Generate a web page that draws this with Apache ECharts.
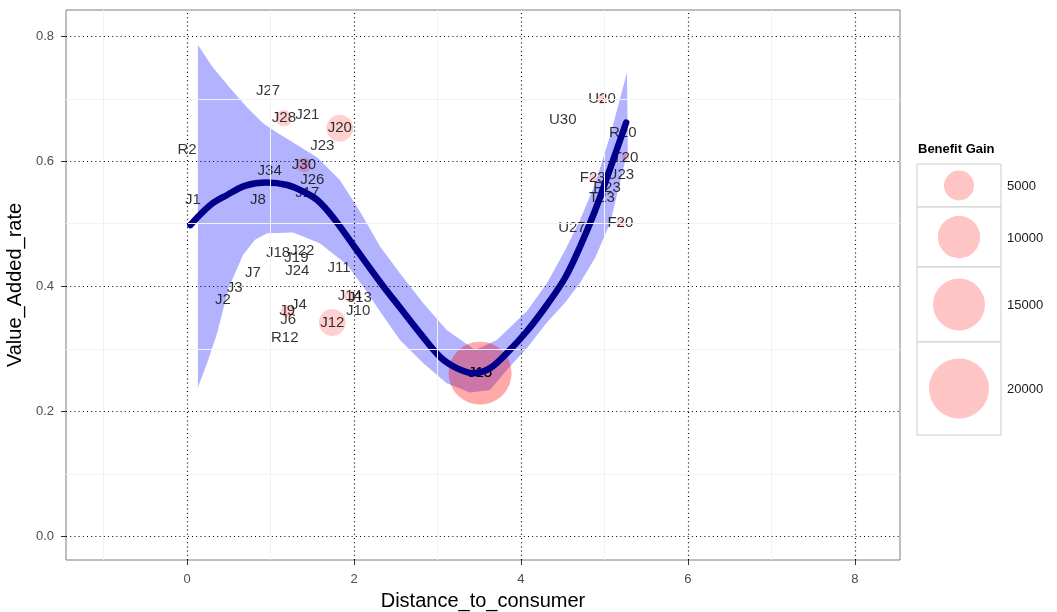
<!DOCTYPE html>
<html><head><meta charset="utf-8">
<script src="https://cdn.jsdelivr.net/npm/echarts@6/dist/echarts.min.js"></script>
<style>html,body{margin:0;padding:0;background:#fff}#c{width:1057px;height:612px}</style>
</head><body><div id="c"></div>
<script>
// ---- data ----
const pointLabels = ['R2','J1','J27','J28','J21','J20','J23','J30','J34','J26','J17','J8','J18','J22','J19','J24','J11','J7','J3','J2','J4','J9','J6','R12','J12','J14','J13','J10','J15','J15','U20','U30','R20','T20','U23','F23','R23','T23','U27','F20'];
const distanceToConsumer = [0.00,0.07,0.97,1.16,1.44,1.83,1.62,1.40,0.99,1.50,1.44,0.85,1.09,1.38,1.31,1.32,1.82,0.79,0.57,0.43,1.34,1.20,1.21,1.17,1.74,1.95,2.07,2.05,3.51,3.51,4.97,4.50,5.22,5.25,5.19,4.86,5.03,4.97,4.61,5.19];
const valueAddedRate = [0.618,0.539,0.712,0.669,0.674,0.653,0.624,0.594,0.584,0.570,0.549,0.539,0.453,0.456,0.446,0.424,0.429,0.421,0.397,0.378,0.370,0.360,0.346,0.317,0.342,0.384,0.382,0.360,0.261,0.261,0.700,0.666,0.645,0.606,0.578,0.573,0.558,0.541,0.493,0.501];
const benefitGain = [0,0,0,1500,0,4000,0,1200,0,0,0,0,0,0,0,0,0,0,0,0,0,900,0,0,4000,800,0,0,22000,22000,600,0,0,300,0,400,0,0,0,400];

const smoothX = [0.04,0.28,0.48,0.70,0.95,1.20,1.40,1.56,1.75,2.00,2.35,2.55,2.79,3.03,3.23,3.43,3.63,3.83,4.07,4.31,4.53,4.71,4.89,5.07,5.26];
const smoothY = [0.498,0.530,0.546,0.561,0.566,0.562,0.551,0.538,0.510,0.464,0.400,0.366,0.325,0.287,0.269,0.261,0.269,0.293,0.328,0.370,0.414,0.464,0.522,0.589,0.662];

const upperX = [0.13,0.31,0.51,0.72,0.91,1.09,1.27,1.56,1.83,2.07,2.31,2.55,2.83,3.11,3.45,3.71,4.07,4.31,4.53,4.71,4.89,5.07,5.27];
const upperY = [0.786,0.750,0.718,0.686,0.661,0.645,0.630,0.606,0.570,0.520,0.464,0.421,0.373,0.330,0.298,0.314,0.360,0.405,0.458,0.507,0.565,0.642,0.742];
const lowerX = [0.13,0.24,0.36,0.50,0.67,0.81,0.96,1.27,1.59,1.92,2.16,2.31,2.55,2.83,3.11,3.39,3.63,3.83,4.07,4.31,4.53,4.71,4.89,5.07,5.28];
const lowerY = [0.238,0.277,0.325,0.398,0.450,0.474,0.485,0.486,0.469,0.434,0.390,0.360,0.314,0.277,0.245,0.230,0.234,0.266,0.301,0.342,0.374,0.406,0.446,0.502,0.618];

const xTicks = [0,2,4,6,8];
const yTicks = [0,0.2,0.4,0.6,0.8];
const xMinor = [-1,1,3,5,7];
const yMinor = [0.1,0.3,0.5,0.7];
const legendValues = [5000,10000,15000,20000];

// ---- chart ----
const SIZE_K = 0.4243; // diameter per sqrt(value)
const sizeOf = v => SIZE_K * Math.sqrt(v);
const FONT = '"Liberation Sans", Arial, sans-serif';

const chart = echarts.init(document.getElementById('c'), null, {renderer: 'canvas'});

const points = pointLabels.map((n, i) => ({name: n, value: [distanceToConsumer[i], valueAddedRate[i], benefitGain[i]]}));

// legend graphic (layout positions only)
const rowEdges = [164, 207, 267, 342, 435];
const legX = 917, legW = 84;
const graphic = [{type: 'text', left: 918, top: 143, style: {text: 'Benefit Gain', font: 'bold 13px ' + FONT, fill: '#000'}}];
legendValues.forEach((v, i) => {
  const y0 = rowEdges[i], y1 = rowEdges[i + 1], cy = (y0 + y1) / 2;
  graphic.push({type: 'rect', shape: {x: legX, y: y0, width: legW, height: y1 - y0}, style: {fill: '#fff', stroke: '#cccccc', lineWidth: 1}});
  graphic.push({type: 'circle', shape: {cx: legX + 42, cy: cy, r: sizeOf(v) / 2}, style: {fill: 'rgba(255,0,0,0.23)'}});
  graphic.push({type: 'text', x: 1007, y: cy + 1, style: {text: String(v), font: '13px ' + FONT, fill: '#1a1a1a', verticalAlign: 'middle'}});
});

chart.setOption({
  animation: false,
  backgroundColor: '#fff',
  grid: {left: 66, right: 157, top: 10, bottom: 52, outerBoundsMode: 'none', containLabel: false,
         show: true, borderColor: '#7f7f7f', borderWidth: 1, backgroundColor: '#fff'},
  xAxis: {
    type: 'value', min: -1.45, max: 8.54,
    name: 'Distance_to_consumer', nameLocation: 'middle', nameGap: 31,
    nameTextStyle: {fontSize: 20, color: '#000', fontFamily: FONT},
    axisLine: {show: false, onZero: false},
    axisTick: {show: true, length: 5, customValues: xTicks, lineStyle: {color: '#333'}},
    axisLabel: {customValues: xTicks, color: '#4d4d4d', fontSize: 13, margin: 13, fontFamily: FONT},
    splitLine: {show: false}
  },
  yAxis: {
    type: 'value', min: -0.038, max: 0.842,
    name: 'Value_Added_rate', nameLocation: 'middle', nameGap: 30, nameRotate: 90,
    nameTextStyle: {fontSize: 20, color: '#000', fontFamily: FONT},
    axisLine: {show: false, onZero: false},
    axisTick: {show: true, length: 5, customValues: yTicks, lineStyle: {color: '#333'}},
    axisLabel: {customValues: yTicks, color: '#4d4d4d', fontSize: 13, margin: 12, fontFamily: FONT, formatter: v => v.toFixed(1)},
    splitLine: {show: false}
  },
  graphic: graphic,
  series: [
    {type: 'line', data: [], silent: true, z: 1,
     markLine: {silent: true, symbol: 'none', label: {show: false}, animation: false,
       lineStyle: {type: 'solid', color: '#f2f2f2', width: 1},
       data: xMinor.map(v => ({xAxis: v})).concat(yMinor.map(v => ({yAxis: v})))}},
    {type: 'line', data: [], silent: true, z: 1,
     markLine: {silent: true, symbol: 'none', label: {show: false}, animation: false,
       lineStyle: {type: [1, 3.2], color: '#000', width: 1.2},
       data: xTicks.map(v => ({xAxis: v})).concat(yTicks.map(v => ({yAxis: v})))}},
    {type: 'custom', coordinateSystem: 'cartesian2d', data: [[upperX[0], upperY[0]]], silent: true, z: 2,
     renderItem: function (params, api) {
       const pts = [];
       for (let i = 0; i < upperX.length; i++) pts.push(api.coord([upperX[i], upperY[i]]));
       for (let i = lowerX.length - 1; i >= 0; i--) pts.push(api.coord([lowerX[i], lowerY[i]]));
       return {type: 'polygon', shape: {points: pts}, style: {fill: 'rgba(0,0,255,0.3)'}};
     }},
    {type: 'scatter', z: 3, data: points,
     symbolSize: v => sizeOf(v[2]),
     itemStyle: {color: 'rgba(255,0,0,0.23)'},
     label: {show: true, position: 'inside', formatter: '{b}', color: '#000', fontSize: 15, fontFamily: FONT},
     labelLayout: {hideOverlap: false}},
    {type: 'line', z: 4, smooth: 0.35, showSymbol: false, silent: true,
     data: smoothX.map((x, i) => [x, smoothY[i]]),
     lineStyle: {width: 6.5, color: '#00008b', cap: 'round'}}
  ]
});
</script></body></html>
